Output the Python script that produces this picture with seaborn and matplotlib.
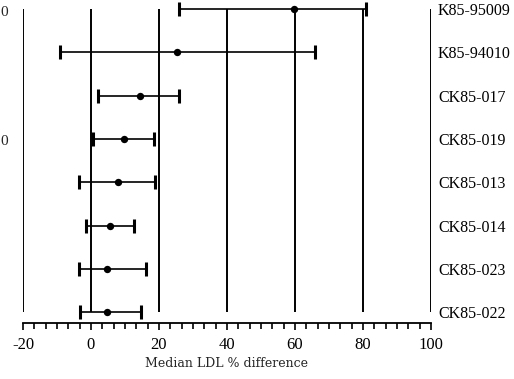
import matplotlib
matplotlib.use("Agg")
import matplotlib.pyplot as plt
from matplotlib.ticker import MultipleLocator
import numpy as np
import pandas as pd
import seaborn as sns

# Median LDL % difference per lot, with lower / upper interval limits
lots = ["K85-95009", "K85-94010", "CK85-017", "CK85-019",
        "CK85-013", "CK85-014", "CK85-023", "CK85-022"]
median = [59.6, 25.3, 14.5, 9.8, 7.9, 5.6, 4.8, 4.8]
lower = [25.9, -9.1, 2.0, 0.5, -3.4, -1.5, -3.4, -3.1]
upper = [81.0, 65.9, 25.9, 18.4, 18.8, 12.6, 16.2, 14.6]
x_ticks = [-20, 0, 20, 40, 60, 80, 100]

df = pd.DataFrame({"lot": lots, "median": median, "lower": lower, "upper": upper})
df["pos"] = np.arange(len(df))

sns.set_theme(style="white")
plt.rcParams["font.family"] = ["Liberation Serif", "DejaVu Serif"]

fig = plt.figure(figsize=(5.14, 3.79), dpi=100)
ax = fig.add_axes([23 / 514, (379 - 323) / 379, (431 - 23) / 514, 323 / 379])

# reference lines at each major tick
ax.vlines(x_ticks, 0, len(df) - 1, colors="black", linewidth=1.4, zorder=1)

# interval bars with caps
ax.errorbar(df["median"], df["pos"],
            xerr=[df["median"] - df["lower"], df["upper"] - df["median"]],
            fmt="none", ecolor="black", elinewidth=1.2, capsize=5, capthick=2.2,
            zorder=2)
sns.scatterplot(data=df, x="median", y="pos", color="black", s=28,
                edgecolor="black", linewidth=0, zorder=3, ax=ax)

ax.set_xlim(-20, 100)
ax.set_ylim(len(df) - 1 + 0.25, -0.21)
ax.set_xticks(x_ticks)
ax.xaxis.set_minor_locator(MultipleLocator(20 / 6))
ax.set_xticklabels([str(t) for t in x_ticks], fontsize=12)
ax.tick_params(axis="x", which="both", direction="out", bottom=True,
               length=4, width=1.2, color="black", pad=5, labelcolor="black")
ax.tick_params(axis="x", which="major", length=5)

ax.yaxis.tick_right()
ax.set_yticks(df["pos"])
ax.set_yticklabels(df["lot"], fontsize=11.5)
ax.tick_params(axis="y", length=0, pad=5, labelcolor="black")
ax.set_ylabel("")
ax.set_xlabel("Median LDL % difference", fontsize=9,
              family=["DejaVu Serif"], labelpad=3)

for side in ["top", "left", "right"]:
    ax.spines[side].set_visible(False)
ax.spines["bottom"].set_color("black")
ax.spines["bottom"].set_linewidth(1.3)

# left-hand labels at the figure edge
fig.text(0.0, 1 - 13 / 379, "0", fontsize=11, ha="left", va="center")
fig.text(0.0, 1 - 142 / 379, "0", fontsize=11, ha="left", va="center")

fig.savefig("out.png", dpi=100)
